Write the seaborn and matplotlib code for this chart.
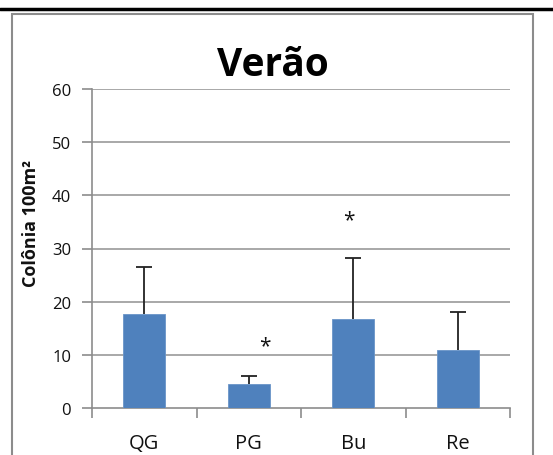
import matplotlib
matplotlib.use("Agg")
import matplotlib.pyplot as plt
from matplotlib.lines import Line2D
from matplotlib.patches import Rectangle
import numpy as np
import pandas as pd
import seaborn as sns

# Colony density per site (summer)
sites = ["QG", "PG", "Bu", "Re"]
colonias = [17.7, 4.6, 16.7, 10.9]
erro_sup = [8.9, 1.5, 11.6, 7.2]
# significance markers: (x position in category units, y value)
asterisco_x = [1.15, 1.96]
asterisco_y = [11.8, 35.4]
yticks = [0, 10, 20, 30, 40, 50, 60]

sns.set_theme(style="white")
plt.rcParams["font.family"] = ["Open Sans", "DejaVu Sans"]

W, H = 553, 456
fig = plt.figure(figsize=(W / 100, H / 100), dpi=100)
ax = fig.add_axes([92 / W, (H - 409) / H, (510 - 92) / W, (409 - 90) / H])

df = pd.DataFrame({"site": sites, "colonias": colonias})
sns.barplot(data=df, x="site", y="colonias", color="#4F81BD", width=0.4,
            errorbar=None, ax=ax, saturation=1, edgecolor="#6a94c8", linewidth=0.6, zorder=3)

# upper-only error bars
eb = ax.errorbar(np.arange(len(sites)), colonias, yerr=[np.zeros(len(sites)), erro_sup],
                 fmt="none", ecolor="#222222", elinewidth=1.3, capsize=6, capthick=1.3, zorder=4)
eb[1][0].set_visible(False)

for x, y in zip(asterisco_x, asterisco_y):
    ax.text(x, y, "*", ha="center", va="center", fontsize=15, color="#111111", zorder=5)

ax.set_xlim(-0.5, 3.5)
ax.set_ylim(0, 60)
ax.set_yticks(yticks)
ax.set_yticklabels([str(v) for v in yticks], fontsize=12, color="#111111")
ax.set_xticks(range(len(sites)))
ax.set_xticklabels(sites, fontsize=14.5, color="#111111")
ax.set_xticks(np.arange(-0.5, 3.6, 1.0), minor=True)
ax.tick_params(axis="x", which="major", length=0, pad=18, bottom=True)
ax.tick_params(axis="x", which="minor", length=7, width=1.2, color="#8c8c8c",
               direction="out", bottom=True)
ax.tick_params(axis="y", length=7, width=1.2, color="#8c8c8c", direction="out", pad=8, left=True)
ax.set_xlabel("")
ax.set_ylabel("Colônia 100m²", fontsize=13, fontweight="bold", color="#111111")
ax.yaxis.set_label_coords((31 - 92) / 418, (409 - 224) / 319)
ax.yaxis.label.set_va("center")

for v in yticks[1:]:
    ax.axhline(v, color="#9a9a9a", linewidth=1.2, zorder=1)

for side in ["top", "right"]:
    ax.spines[side].set_visible(False)
for side in ["left", "bottom"]:
    ax.spines[side].set_color("#8c8c8c")
    ax.spines[side].set_linewidth(1.2)

# outer chart frame and top rule
fig.add_artist(Rectangle((12 / W, -0.05), (533 - 12) / W, (H - 15) / H + 0.05,
                         transform=fig.transFigure, fill=False, edgecolor="#8c8c8c", linewidth=1.5))
fig.add_artist(Line2D([0, 1], [(H - 10) / H] * 2, transform=fig.transFigure,
                      color="black", linewidth=2.5))

fig.text(273 / W, (H - 66) / H, "Verão", ha="center", va="center",
         fontsize=28, fontweight="bold", color="black")

fig.savefig("out.png", dpi=100)
